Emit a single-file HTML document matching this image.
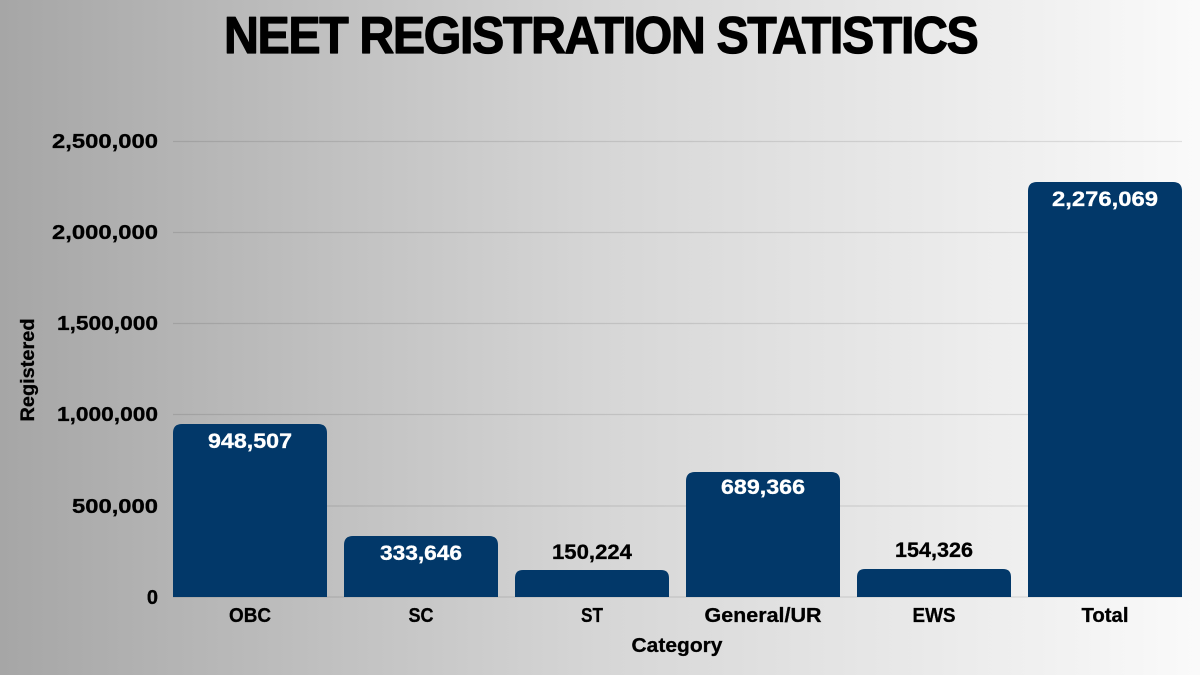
<!DOCTYPE html>
<html>
<head>
<meta charset="utf-8">
<style>
  html,body{margin:0;padding:0;}
  body{width:1200px;height:675px;overflow:hidden;}
  svg{display:block;}
  text{font-family:"Liberation Sans",sans-serif;font-weight:bold;}
</style>
</head>
<body>
<svg width="1200" height="675" viewBox="0 0 1200 675" xmlns="http://www.w3.org/2000/svg">
  <defs>
    <linearGradient id="bg" x1="0" y1="0" x2="1" y2="0">
      <stop offset="0" stop-color="#a6a6a6"/>
      <stop offset="0.5" stop-color="#d6d6d6"/>
      <stop offset="1" stop-color="#fafafa"/>
    </linearGradient>
  </defs>
  <rect x="0" y="0" width="1200" height="675" fill="url(#bg)"/>

  <!-- title -->
  <g transform="translate(224,53) scale(0.93,1)">
    <text x="0" y="0" font-size="52" letter-spacing="-1.5" fill="#000" stroke="#000" stroke-width="1.2" stroke-linejoin="round">NEET REGISTRATION STATISTICS</text>
  </g>

  <!-- gridlines -->
  <g stroke="#000" stroke-opacity="0.1" stroke-width="1.2">
    <line x1="173" y1="141.5" x2="1182" y2="141.5"/>
    <line x1="173" y1="232.5" x2="1182" y2="232.5"/>
    <line x1="173" y1="323.5" x2="1182" y2="323.5"/>
    <line x1="173" y1="414.5" x2="1182" y2="414.5"/>
    <line x1="173" y1="506" x2="1182" y2="506"/>
    <line x1="173" y1="597" x2="1182" y2="597"/>
  </g>

  <!-- y tick labels -->
  <g font-size="20" fill="#000" stroke="#000" stroke-width="0.3" text-anchor="end">
    <text x="158" y="148" textLength="106" lengthAdjust="spacingAndGlyphs">2,500,000</text>
    <text x="158" y="239" textLength="106" lengthAdjust="spacingAndGlyphs">2,000,000</text>
    <text x="158" y="330" textLength="101" lengthAdjust="spacingAndGlyphs">1,500,000</text>
    <text x="158" y="421" textLength="101" lengthAdjust="spacingAndGlyphs">1,000,000</text>
    <text x="158" y="513" textLength="86" lengthAdjust="spacingAndGlyphs">500,000</text>
    <text x="158" y="604">0</text>
  </g>

  <!-- y axis title -->
  <text transform="translate(34,370) rotate(-90)" font-size="19" text-anchor="middle" textLength="103" lengthAdjust="spacingAndGlyphs" fill="#000" stroke="#000" stroke-width="0.3">Registered</text>

  <!-- bars -->
  <g fill="#023869">
    <path d="M173,597 V433 Q173,424 182,424 H318 Q327,424 327,433 V597 Z"/>
    <path d="M344,597 V545 Q344,536 353,536 H489 Q498,536 498,545 V597 Z"/>
    <path d="M515,597 V578 Q515,570 523,570 H661 Q669,570 669,578 V597 Z"/>
    <path d="M686,597 V481 Q686,472 695,472 H831 Q840,472 840,481 V597 Z"/>
    <path d="M857,597 V577 Q857,569 865,569 H1003 Q1011,569 1011,577 V597 Z"/>
    <path d="M1028,597 V191 Q1028,182 1037,182 H1173 Q1182,182 1182,191 V597 Z"/>
  </g>

  <!-- value labels -->
  <g font-size="21" text-anchor="middle" stroke-width="0.3">
    <text x="250" y="448" fill="#fff" stroke="#fff" textLength="84" lengthAdjust="spacingAndGlyphs">948,507</text>
    <text x="421" y="560" fill="#fff" stroke="#fff" textLength="82" lengthAdjust="spacingAndGlyphs">333,646</text>
    <text x="592" y="559" fill="#000" stroke="#000" textLength="80" lengthAdjust="spacingAndGlyphs">150,224</text>
    <text x="763" y="494" fill="#fff" stroke="#fff" textLength="84" lengthAdjust="spacingAndGlyphs">689,366</text>
    <text x="934" y="557" fill="#000" stroke="#000" textLength="78" lengthAdjust="spacingAndGlyphs">154,326</text>
    <text x="1105" y="206" fill="#fff" stroke="#fff" textLength="106" lengthAdjust="spacingAndGlyphs">2,276,069</text>
  </g>

  <!-- category labels -->
  <g font-size="20" text-anchor="middle" fill="#000" stroke="#000" stroke-width="0.3">
    <text x="250" y="622" textLength="42" lengthAdjust="spacingAndGlyphs">OBC</text>
    <text x="421" y="622" textLength="25" lengthAdjust="spacingAndGlyphs">SC</text>
    <text x="592" y="622" textLength="22" lengthAdjust="spacingAndGlyphs">ST</text>
    <text x="763" y="622" textLength="117" lengthAdjust="spacingAndGlyphs">General/UR</text>
    <text x="934" y="622" textLength="43" lengthAdjust="spacingAndGlyphs">EWS</text>
    <text x="1105" y="622" textLength="47" lengthAdjust="spacingAndGlyphs">Total</text>
  </g>

  <!-- x axis title -->
  <text x="677" y="652" font-size="20" text-anchor="middle" textLength="91" lengthAdjust="spacingAndGlyphs" fill="#000" stroke="#000" stroke-width="0.3">Category</text>
</svg>
</body>
</html>
